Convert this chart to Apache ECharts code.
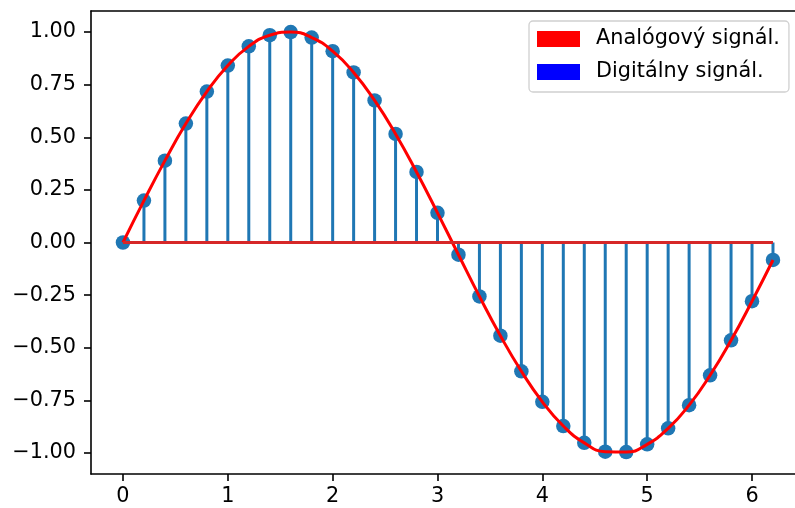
<!DOCTYPE html>
<html>
<head>
<meta charset="utf-8">
<script src="https://cdn.jsdelivr.net/npm/echarts@6/dist/echarts.min.js"></script>
<style>html,body{margin:0;padding:0;background:#fff}#c{width:795px;height:508px}</style>
</head>
<body>
<div id="c"></div>
<script>
const xValues = [0.0,0.2,0.4,0.6,0.8,1.0,1.2,1.4,1.6,1.8,2.0,2.2,2.4,2.6,2.8,3.0,3.2,3.4,3.6,3.8,4.0,4.2,4.4,4.6,4.8,5.0,5.2,5.4,5.6,5.8,6.0,6.2];
const yValues = [0.000,0.199,0.389,0.565,0.717,0.841,0.932,0.985,1.000,0.974,0.909,0.808,0.675,0.516,0.335,0.141,-0.058,-0.256,-0.443,-0.612,-0.757,-0.872,-0.952,-0.994,-0.996,-0.959,-0.883,-0.773,-0.631,-0.465,-0.279,-0.083];
const xTicks = [0,1,2,3,4,5,6];
const yTicks = [-1.0,-0.75,-0.5,-0.25,0.0,0.25,0.5,0.75,1.0];
const legendNames = ['Analógový signál.','Digitálny signál.'];

const pts = xValues.map((x,i)=>[x,yValues[i]]);
const font = 'DejaVu Sans';
const fs = 20.8;
const axisCommon = {color:'#000', width:1.6};
const chart = echarts.init(document.getElementById('c'), null, {renderer:'canvas'});
chart.setOption({
  animation:false,
  backgroundColor:'#fff',
  grid:{left:91, top:11, right:0, bottom:34, containLabel:false},
  xAxis:[{type:'value', min:-0.305, max:6.41,
    axisLine:{show:true, onZero:false, lineStyle:axisCommon},
    axisTick:{show:true, customValues:xTicks, length:7, lineStyle:axisCommon},
    axisLabel:{customValues:xTicks, margin:12, color:'#000', fontFamily:font, fontSize:fs, formatter:v=>String(v)},
    splitLine:{show:false}},
    {type:'value', position:'top', min:-0.305, max:6.41,
    axisLine:{show:true, onZero:false, lineStyle:axisCommon},
    axisTick:{show:false}, axisLabel:{show:false}, splitLine:{show:false}}],
  yAxis:{type:'value', min:-1.1, max:1.1,
    axisLine:{show:true, onZero:false, lineStyle:axisCommon},
    axisTick:{show:true, customValues:yTicks, length:7, lineStyle:axisCommon},
    axisLabel:{customValues:yTicks, margin:15, color:'#000', fontFamily:font, fontSize:fs,
      formatter:v=>(v<0?'\u2212':'')+Math.abs(v).toFixed(2)},
    splitLine:{show:false}},
  legend:{orient:'vertical', left:529, top:21, padding:[7,9,9,8], itemWidth:43, itemHeight:16, itemGap:11,
    icon:'rect', backgroundColor:'#fff', borderColor:'#d0d0d0', borderWidth:1.3, borderRadius:4,
    textStyle:{fontFamily:font, fontSize:fs, lineHeight:22, color:'#000', padding:[0,0,0,11]},
    data:[{name:legendNames[0], itemStyle:{color:'#ff0000'}},{name:legendNames[1], itemStyle:{color:'#0000ff'}}]},
  series:[
    {name:legendNames[0], type:'line', data:pts, smooth:0.5, showSymbol:false, symbol:'none',
      lineStyle:{color:'#ff0000', width:3}, itemStyle:{color:'#ff0000'}},
    {name:'stems', type:'bar', data:pts, barWidth:3, itemStyle:{color:'#1f77b4'}},
    {name:'markers', type:'scatter', data:pts, symbol:'circle', symbolSize:14.5, itemStyle:{color:'#1f77b4', opacity:1}},
    {name:'baseline', type:'line', data:[[xValues[0],0],[xValues[xValues.length-1],0]], symbol:'none',
      lineStyle:{color:'#d62728', width:3}},
    {name:legendNames[1], type:'line', data:[], itemStyle:{color:'#0000ff'}}
  ]
});
</script>
</body>
</html>
